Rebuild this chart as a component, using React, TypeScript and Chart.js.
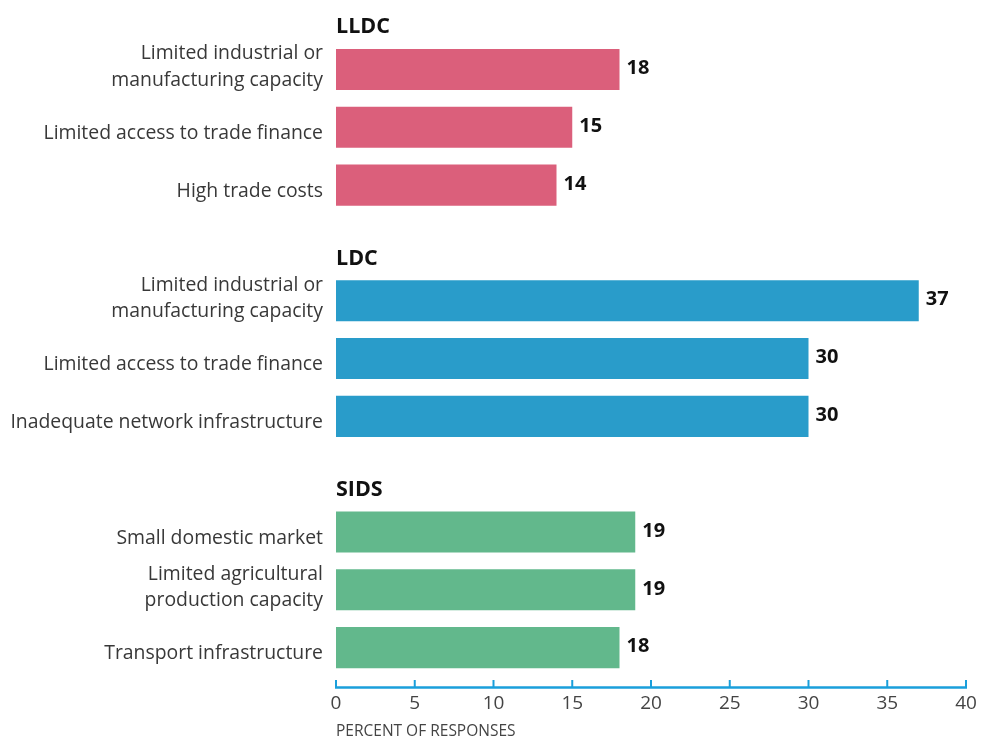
import React, { useEffect, useRef } from "react";
import { Chart, registerables } from "chart.js";

Chart.register(...registerables);

const groupNames = ["LLDC", "LDC", "SIDS"];
const lldcLabels: (string | string[])[] = [["Limited industrial or", "manufacturing capacity"], "Limited access to trade finance", "High trade costs"];
const lldcValues = [18, 15, 14];
const ldcLabels: (string | string[])[] = [["Limited industrial or", "manufacturing capacity"], "Limited access to trade finance", "Inadequate network infrastructure"];
const ldcValues = [37, 30, 30];
const sidsLabels: (string | string[])[] = ["Small domestic market", ["Limited agricultural", "production capacity"], "Transport infrastructure"];
const sidsValues = [19, 19, 18];
const groupColors = ["#db5f7b", "#299cca", "#62b88c"];
const xTicks = [0, 5, 10, 15, 20, 25, 30, 35, 40];
const xTitle = "PERCENT OF RESPONSES";

const FONT = "'Open Sans', 'Noto Sans', sans-serif";

export default function App() {
  const ref = useRef<HTMLCanvasElement | null>(null);

  useEffect(() => {
    const groups = [
      { name: groupNames[0], labels: lldcLabels, values: lldcValues, color: groupColors[0] },
      { name: groupNames[1], labels: ldcLabels, values: ldcValues, color: groupColors[1] },
      { name: groupNames[2], labels: sidsLabels, values: sidsValues, color: groupColors[2] },
    ];
    const rowLabels: (string | string[])[] = [];
    const points: { x: number; y: number }[] = [];
    const colors: string[] = [];
    const groupStarts: number[] = [];
    groups.forEach((g, gi) => {
      if (gi > 0) rowLabels.push("");
      groupStarts.push(rowLabels.length);
      g.labels.forEach((l, i) => {
        points.push({ x: g.values[i], y: rowLabels.length });
        colors.push(g.color);
        rowLabels.push(l);
      });
    });
    const nRows = rowLabels.length;
    const yMin = -0.5;
    const yMax = nRows - 1 + 0.69;

    const overlay = {
      id: "overlay",
      afterDraw(chart: any) {
        const ctx = chart.ctx;
        const xs = chart.scales.x;
        const ys = chart.scales.y;
        const bottom = chart.chartArea.bottom;
        ctx.save();
        // axis line and inward ticks
        ctx.strokeStyle = "#1a9fdb";
        ctx.lineWidth = 2.5;
        ctx.beginPath();
        ctx.moveTo(xs.getPixelForValue(xTicks[0]) - 1, bottom);
        ctx.lineTo(xs.getPixelForValue(xTicks[xTicks.length - 1]) + 1, bottom);
        ctx.stroke();
        ctx.lineWidth = 2;
        xTicks.forEach((v) => {
          const px = xs.getPixelForValue(v);
          ctx.beginPath();
          ctx.moveTo(px, bottom);
          ctx.lineTo(px, bottom - 7.5);
          ctx.stroke();
        });
        // category labels
        ctx.fillStyle = "#383838";
        ctx.font = `19.4px ${FONT}`;
        ctx.textAlign = "right";
        ctx.textBaseline = "middle";
        const lx = xs.left - 13;
        rowLabels.forEach((l, i) => {
          const py = ys.getPixelForValue(i);
          if (Array.isArray(l)) {
            const lh = 26.5;
            const top = py - 2.5 - ((l.length - 1) * lh) / 2;
            l.forEach((line, k) => ctx.fillText(line, lx, top + k * lh));
          } else if (l) {
            ctx.fillText(l, lx, py + 6);
          }
        });
        // value labels
        const meta = chart.getDatasetMeta(0);
        ctx.fillStyle = "#111";
        ctx.font = `bold 20px ${FONT}`;
        ctx.textAlign = "left";
        meta.data.forEach((bar: any, i: number) => {
          ctx.fillText(String(points[i].x), bar.x + 7, bar.y - 1);
        });
        // group headers
        ctx.font = `bold 21.5px ${FONT}`;
        groups.forEach((g, gi) => {
          const py = ys.getPixelForValue(groupStarts[gi] - 0.73);
          ctx.fillText(g.name, xs.left, py);
        });
        ctx.restore();
      },
    };

    const chart = new Chart(ref.current as HTMLCanvasElement, {
      type: "bar",
      data: {
        datasets: [
          {
            data: points as any,
            backgroundColor: colors,
            borderWidth: 0,
            barPercentage: 0.71,
            categoryPercentage: 1,
          },
        ],
      },
      options: {
        indexAxis: "y",
        animation: false,
        responsive: true,
        maintainAspectRatio: false,
        layout: { padding: { top: 40.6, right: 15, left: 0, bottom: 0 } },
        plugins: { legend: { display: false }, tooltip: { enabled: false } },
        scales: {
          x: {
            type: "linear",
            bounds: "data",
            offset: false,
            min: xTicks[0],
            max: xTicks[xTicks.length - 1],
            grid: { display: false, drawTicks: false },
            border: { display: false },
            afterBuildTicks: (scale: any) => {
              scale.ticks = xTicks.map((v) => ({ value: v }));
            },
            afterFit: (scale: any) => {
              scale.height = 50.5;
              scale.paddingLeft = 0;
              scale.paddingRight = 0;
            },
            ticks: {
              font: { family: FONT, size: 19 },
              color: "#444",
              padding: 5,
              autoSkip: false,
              maxRotation: 0,
            },
            title: {
              display: true,
              text: xTitle,
              align: "start",
              color: "#444",
              font: { family: FONT, size: 15.5 },
              padding: { top: 0, bottom: -3 },
            },
          },
          y: {
            type: "linear",
            bounds: "data",
            offset: false,
            reverse: true,
            min: yMin,
            max: yMax,
            grid: { display: false, drawTicks: false },
            border: { display: false },
            afterBuildTicks: (scale: any) => {
              scale.ticks = rowLabels.map((_, i) => ({ value: i }));
            },
            afterFit: (scale: any) => {
              scale.width = 336;
              scale.paddingTop = 0;
              scale.paddingBottom = 0;
            },
            ticks: { display: false },
          },
        },
      },
      plugins: [overlay],
    });
    return () => chart.destroy();
  }, []);

  return (
    <div style={{ position: "fixed", left: 0, top: 0, width: 981, height: 738 }}>
      <canvas ref={ref} />
    </div>
  );
}
